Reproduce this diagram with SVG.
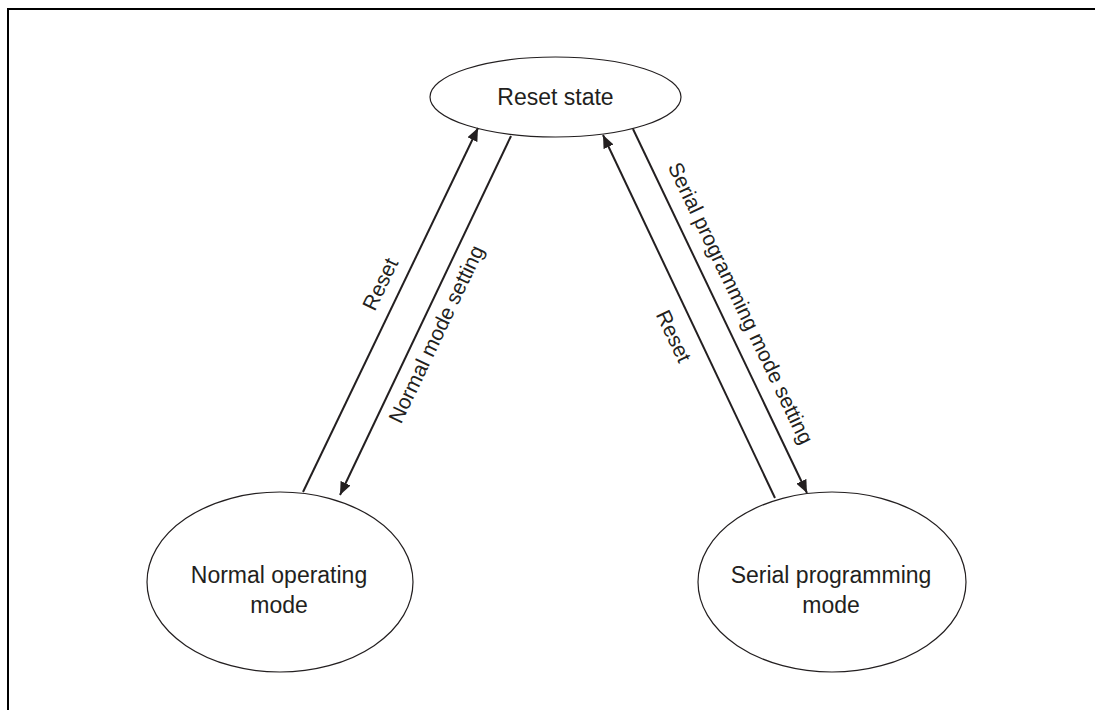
<svg xmlns="http://www.w3.org/2000/svg" width="1095" height="710" viewBox="0 0 1095 710">
<style>
.frame{fill:none;stroke:#000;stroke-width:2}
.node{fill:#fff;stroke:#231f20;stroke-width:1.2}
.edge{fill:none;stroke:#231f20;stroke-width:2}
.nt{font-family:"Liberation Sans",Arial,sans-serif;font-size:23px;fill:#231f20;text-anchor:middle}
.lt{font-family:"Liberation Sans",Arial,sans-serif;font-size:21px;fill:#231f20;text-anchor:middle;dominant-baseline:central}
</style>
<defs>
<marker id="arr" viewBox="0 0 13 11" markerWidth="13" markerHeight="11" refX="13" refY="5.5" orient="auto" markerUnits="userSpaceOnUse">
<path d="M0,0 L13,5.5 L0,11 z" fill="#231f20"/>
</marker>
</defs>
<rect width="1095" height="710" fill="#fff"/>
<path class="frame" d="M8,710 L8,9 L1095,9"/>
<g id="reset-state">
<ellipse class="node" cx="555.5" cy="97" rx="125.5" ry="40"/>
<text class="nt" x="555.5" y="105">Reset state</text>
</g>
<g id="normal-operating-mode">
<ellipse class="node" cx="280" cy="582" rx="133" ry="90"/>
<text class="nt" x="279" y="583">Normal operating</text>
<text class="nt" x="279" y="613">mode</text>
</g>
<g id="serial-programming-mode">
<ellipse class="node" cx="832" cy="582" rx="134" ry="90"/>
<text class="nt" x="831" y="583">Serial programming</text>
<text class="nt" x="831" y="613">mode</text>
</g>
<g id="connectors">
<line class="edge" x1="303" y1="492" x2="478" y2="128" marker-end="url(#arr)"/>
<line class="edge" x1="511" y1="136" x2="340" y2="495" marker-end="url(#arr)"/>
<line class="edge" x1="775" y1="498" x2="603" y2="135" marker-end="url(#arr)"/>
<line class="edge" x1="633" y1="129" x2="807" y2="493" marker-end="url(#arr)"/>
<text class="lt" transform="translate(380,284) rotate(-64.3)">Reset</text>
<text class="lt" transform="translate(436,334) rotate(-64.5)">Normal mode setting</text>
<text class="lt" transform="translate(674,336) rotate(64.6)">Reset</text>
<text class="lt" transform="translate(741,303) rotate(64.45)">Serial programming mode setting</text>
</g>
</svg>
